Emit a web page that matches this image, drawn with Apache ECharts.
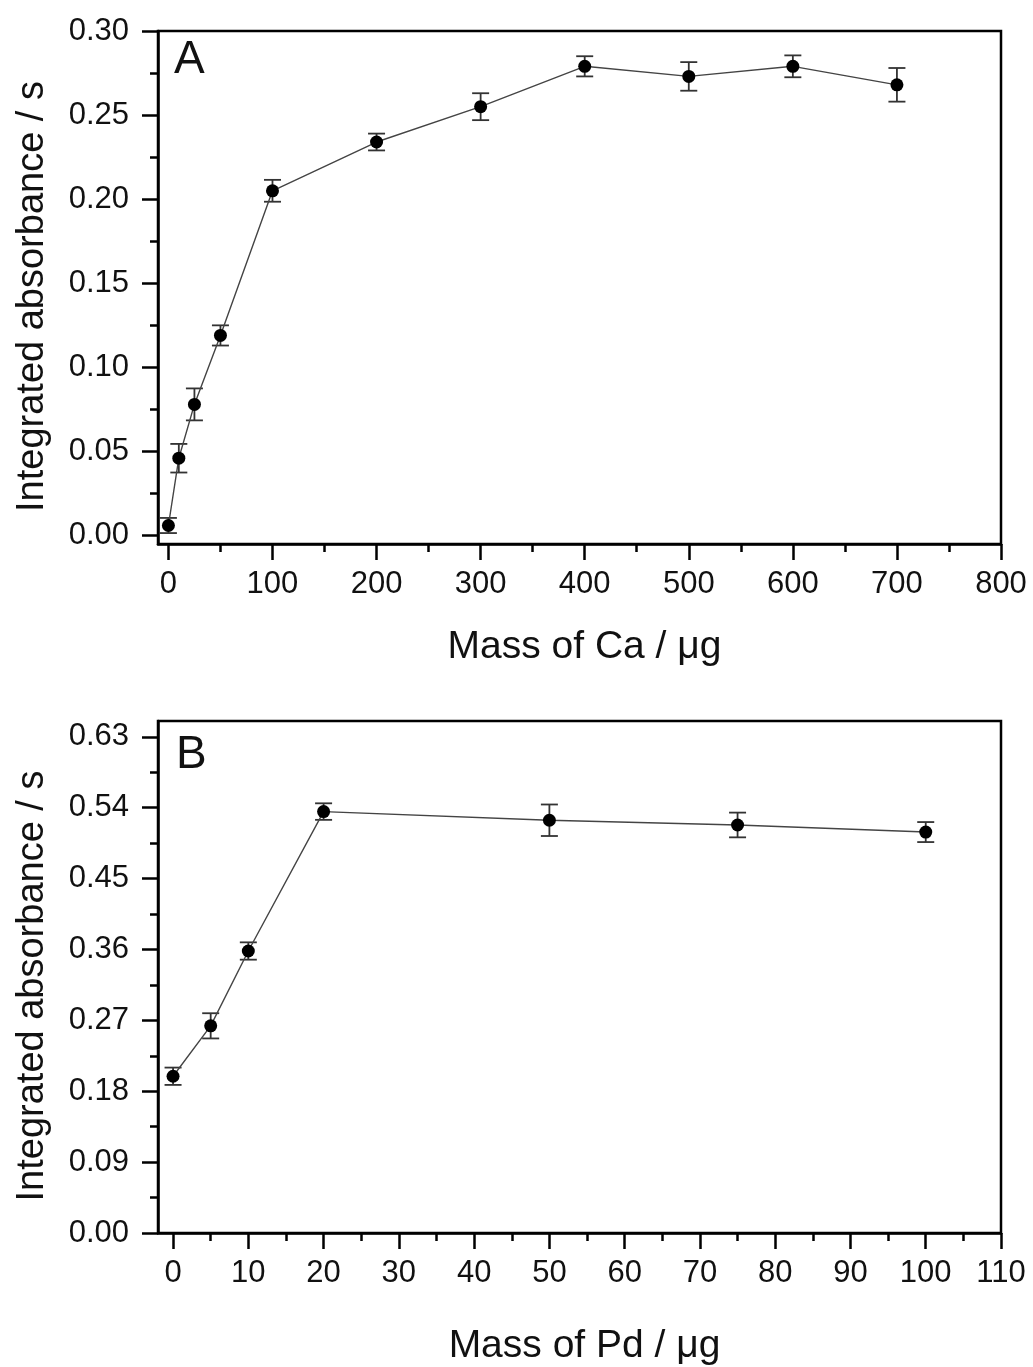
<!DOCTYPE html>
<html>
<head>
<meta charset="utf-8">
<script src="https://cdn.jsdelivr.net/npm/echarts@6/dist/echarts.min.js"></script>
<style>
html,body{margin:0;padding:0;background:#fff;}
#c{width:1033px;height:1367px;}
</style>
</head>
<body>
<div id="c"></div>
<script>
// Panel A: mass of Ca
const caMass = [0, 10, 25, 50, 100, 200, 300, 400, 500, 600, 700];
const caAbs  = [0.006, 0.046, 0.078, 0.119, 0.205, 0.234, 0.255, 0.279, 0.273, 0.279, 0.268];
const caErr  = [0.0045, 0.0085, 0.0095, 0.006, 0.0065, 0.005, 0.008, 0.006, 0.0085, 0.0065, 0.010];
const caXTicks = [0, 100, 200, 300, 400, 500, 600, 700, 800];
const caXMinor = [50, 150, 250, 350, 450, 550, 650, 750];
const caYTicks = [0, 0.05, 0.10, 0.15, 0.20, 0.25, 0.30];
const caYMinor = [0.025, 0.075, 0.125, 0.175, 0.225, 0.275];

// Panel B: mass of Pd
const pdMass = [0, 5, 10, 20, 50, 75, 100];
const pdAbs  = [0.199, 0.263, 0.358, 0.535, 0.524, 0.518, 0.509];
const pdErr  = [0.011, 0.016, 0.011, 0.0105, 0.020, 0.0157, 0.0127];
const pdXTicks = [0, 10, 20, 30, 40, 50, 60, 70, 80, 90, 100, 110];
const pdXMinor = [5, 15, 25, 35, 45, 55, 65, 75, 85, 95, 105];
const pdYTicks = [0, 0.09, 0.18, 0.27, 0.36, 0.45, 0.54, 0.63];
const pdYMinor = [0.045, 0.135, 0.225, 0.315, 0.405, 0.495, 0.585];

const FONT = '"Liberation Sans", Arial, sans-serif';
const chart = echarts.init(document.getElementById('c'), null, {renderer: 'canvas'});

function majorX(gi, min, max, ticks, name, gap) {
  return {
    type: 'value', gridIndex: gi, position: 'bottom', min: min, max: max,
    name: name, nameLocation: 'middle', nameGap: gap,
    nameTextStyle: {fontFamily: FONT, fontSize: 39, color: '#111', padding: [0, 0, 0, 10]},
    axisLine: {show: true, onZero: false, lineStyle: {color: '#000', width: 2.5}},
    axisTick: {show: true, customValues: ticks, length: 16, lineStyle: {color: '#000', width: 2.5}},
    axisLabel: {show: true, customValues: ticks, margin: 25, fontFamily: FONT, fontSize: 31, color: '#111'},
    splitLine: {show: false}
  };
}
function minorX(gi, min, max, ticks) {
  return {
    type: 'value', gridIndex: gi, position: 'bottom', min: min, max: max,
    axisLine: {show: false, onZero: false},
    axisTick: {show: true, customValues: ticks, length: 8, lineStyle: {color: '#000', width: 2.5}},
    axisLabel: {show: false}, splitLine: {show: false}
  };
}
function majorY(gi, min, max, ticks, name) {
  return {
    type: 'value', gridIndex: gi, position: 'left', min: min, max: max,
    name: name, nameLocation: 'middle', nameGap: 106, nameRotate: 90,
    nameTextStyle: {fontFamily: FONT, fontSize: 38, color: '#111', padding: [0, 18, 0, 0]},
    axisLine: {show: true, onZero: false, lineStyle: {color: '#000', width: 2.5}},
    axisTick: {show: true, customValues: ticks, length: 16, lineStyle: {color: '#000', width: 2.5}},
    axisLabel: {show: true, customValues: ticks, margin: 29, fontFamily: FONT, fontSize: 31, color: '#111',
      formatter: v => Number(v).toFixed(2)},
    splitLine: {show: false}
  };
}
function minorY(gi, min, max, ticks) {
  return {
    type: 'value', gridIndex: gi, position: 'left', min: min, max: max,
    axisLine: {show: false, onZero: false},
    axisTick: {show: true, customValues: ticks, length: 8, lineStyle: {color: '#000', width: 2.5}},
    axisLabel: {show: false}, splitLine: {show: false}
  };
}

function errBars(xs, ys, es, xi, yi) {
  const data = xs.map((x, i) => [x, ys[i] - es[i], ys[i] + es[i]]);
  return {
    type: 'custom', xAxisIndex: xi, yAxisIndex: yi, z: 2, silent: true,
    data: data,
    renderItem: function (params, api) {
      const x = api.value(0);
      const lo = api.coord([x, api.value(1)]);
      const hi = api.coord([x, api.value(2)]);
      const w = 8.5;
      const st = {stroke: '#333', lineWidth: 1.8};
      return {
        type: 'group',
        children: [
          {type: 'line', shape: {x1: lo[0], y1: lo[1], x2: hi[0], y2: hi[1]}, style: st},
          {type: 'line', shape: {x1: lo[0] - w, y1: lo[1], x2: lo[0] + w, y2: lo[1]}, style: st},
          {type: 'line', shape: {x1: hi[0] - w, y1: hi[1], x2: hi[0] + w, y2: hi[1]}, style: st}
        ]
      };
    }
  };
}
function lineSeries(xs, ys, xi, yi) {
  return {
    type: 'line', xAxisIndex: xi, yAxisIndex: yi, z: 3, silent: true,
    data: xs.map((x, i) => [x, ys[i]]),
    symbol: 'circle', symbolSize: 13,
    itemStyle: {color: '#000'},
    lineStyle: {color: '#444', width: 1.4},
    animation: false
  };
}

chart.setOption({
  animation: false,
  backgroundColor: '#fff',
  grid: [
    {left: 158, right: 32, top: 31, height: 513, show: true, borderColor: '#000', borderWidth: 2.5, backgroundColor: 'transparent'},
    {left: 158, right: 32, top: 721, height: 513, show: true, borderColor: '#000', borderWidth: 2.5, backgroundColor: 'transparent'}
  ],
  xAxis: [
    majorX(0, -10, 800, caXTicks, 'Mass of Ca / μg', 84),
    minorX(0, -10, 800, caXMinor),
    majorX(1, -2, 110, pdXTicks, 'Mass of Pd / μg', 94),
    minorX(1, -2, 110, pdXMinor)
  ],
  yAxis: [
    majorY(0, -0.005, 0.30, caYTicks, 'Integrated absorbance / s'),
    minorY(0, -0.005, 0.30, caYMinor),
    majorY(1, 0, 0.65, pdYTicks, 'Integrated absorbance / s'),
    minorY(1, 0, 0.65, pdYMinor)
  ],
  graphic: [
    {type: 'text', left: 174, top: 37, style: {text: 'A', font: '46px ' + FONT, fill: '#111'}},
    {type: 'text', left: 176, top: 732, style: {text: 'B', font: '46px ' + FONT, fill: '#111'}}
  ],
  series: [
    errBars(caMass, caAbs, caErr, 0, 0),
    lineSeries(caMass, caAbs, 0, 0),
    errBars(pdMass, pdAbs, pdErr, 2, 2),
    lineSeries(pdMass, pdAbs, 2, 2)
  ]
});
</script>
</body>
</html>
